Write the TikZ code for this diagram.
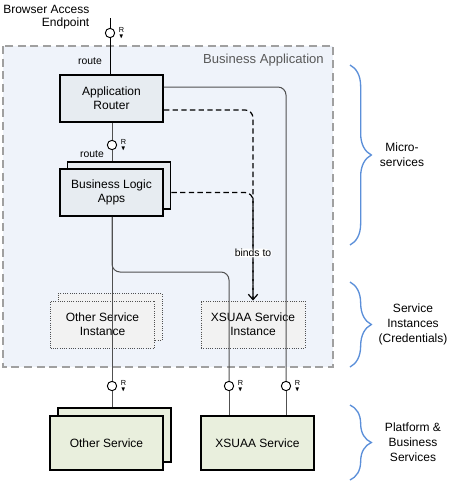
\documentclass[tikz,border=0pt]{standalone}
\usepackage{fontspec}
\usepackage{amssymb}
\setmainfont{Liberation Sans}
\usetikzlibrary{arrows.meta,decorations.pathreplacing}

\definecolor{regionfill}{RGB}{239,243,250}
\definecolor{regionline}{RGB}{160,160,160}
\definecolor{appfill}{RGB}{231,236,241}
\definecolor{instfill}{RGB}{242,242,242}
\definecolor{svcfill}{RGB}{233,239,221}
\definecolor{wiregray}{RGB}{80,80,80}
\definecolor{bracecol}{RGB}{91,143,217}

\tikzset{
  boxtext/.style={font=\fontsize{9}{10.5}\selectfont, align=center, inner sep=0pt},
  comp/.style={boxtext, draw, line width=1.4pt, fill=appfill, minimum width=77.25pt, minimum height=35.25pt},
  inst/.style={boxtext, draw=wiregray, densely dotted, line width=0.7pt, fill=instfill, minimum width=78pt, minimum height=35.25pt},
  svc/.style={boxtext, draw, line width=1.4pt, fill=svcfill, minimum width=84.75pt, minimum height=40.5pt},
  iface/.style={circle, draw=black, line width=0.7pt, fill=white, minimum size=7pt, inner sep=0pt,
    label={[font=\fontsize{5.5}{5.5}\selectfont, align=center, inner sep=0pt, label distance=2.5pt]east:R\\[-0.3pt]\scalebox{0.85}{$\blacktriangledown$}}},
  wire/.style={draw=wiregray, line width=0.75pt},
  bind/.style={draw=black, line width=0.9pt, dash pattern=on 4pt off 2.5pt},
  note/.style={font=\fontsize{7.8}{9}\selectfont, inner sep=1pt},
  bracket/.style={draw=bracecol, line width=1pt, decorate, decoration={brace, amplitude=16pt}},
  side/.style={font=\fontsize{9}{11.25}\selectfont, align=center}
}

\begin{document}
\begin{tikzpicture}[x=0.75pt,y=-0.75pt]
\useasboundingbox (0,0) rectangle (454,482);

% business application region
\draw[fill=regionfill, draw=regionline, line width=1pt, dash pattern=on 6pt off 3.5pt] (3,46) rectangle (333,367);
\node[anchor=east, font=\fontsize{9.8}{11}\selectfont, text=black!65] (bizapp) at (328.5,60) {Business Application};

\node[anchor=east, align=right, font=\fontsize{9}{10}\selectfont] (endpoint) at (94,17) {Browser Access\\Endpoint};

% components
\node[comp] (ar) at (111.5,98.5) {Application\\Router};
\node[comp] (blaback) at (119,185.5) {};
\node[comp] (bla) at (111.5,192.5) {Business Logic\\Apps};

% service instances
\node[inst] (oinstback) at (110,317) {};
\node[inst] (oinst) at (102.5,324.5) {Other Service\\Instance};
\node[inst] (xinst) at (253,324.5) {XSUAA Service\\Instance};

% services
\node[svc] (osvcback) at (114.5,435) {};
\node[svc] (osvc) at (106.5,443) {Other Service};
\node[svc] (xsvc) at (257.5,443) {XSUAA Service};

% interfaces
\coordinate (ep) at (110,18);
\coordinate (split) at (112,272);
\node[iface] (r0) at (110,33) {};
\node[iface] (r1) at (112,145) {};
\node[iface] (r2) at (112,386) {};
\node[iface] (r3) at (229,386) {};
\node[iface] (r4) at (286,386) {};

\node[note] (route1) at (90,61) {route};
\node[note] (route2) at (92,154) {route};

% connectors
\draw[wire, draw=black] (ep) -- (r0);
\draw[wire, draw=black] (r0) -- (r0 |- ar.north);
\draw[wire] (r1 |- ar.south) -- (r1);
\draw[wire] (r1) -- (r1 |- blaback.north);
\draw[wire] (split |- bla.south) -- (r2);
\draw[wire] (r2) -- (r2 |- osvcback.north);
\draw[wire, rounded corners=6pt] (split |- bla.south) -- (split) -| (r3);
\draw[wire] (r3) -- (r3 |- xsvc.north);
\draw[wire, rounded corners=6pt] ([yshift=8.6pt]ar.east) -| (r4);
\draw[wire] (r4) -- (r4 |- xsvc.north);

\draw[bind, rounded corners=6pt] ([yshift=-8.6pt]ar.east) -| (xinst.north);
\draw[bind, rounded corners=6pt, -{Straight Barb[length=4pt,width=7pt]}] (bla.east -| blaback.east) -| (xinst.north)
  node[pos=0.78, fill=white, note, inner sep=0.5pt] (binds) {binds to};

% layers
\draw[bracket] (350,65) -- (350,245) coordinate (b1);
\draw[bracket] (350,282) -- (350,367) coordinate (b2);
\draw[bracket] (350,405) -- (350,480) coordinate (b3);
\node[side] (micro) at (402,154.5) {Micro-\\services};
\node[side] (instances) at (413,324.5) {Service\\Instances\\(Credentials)};
\node[side] (platform) at (413,442) {Platform \&\\Business\\Services};
\end{tikzpicture}
\end{document}
